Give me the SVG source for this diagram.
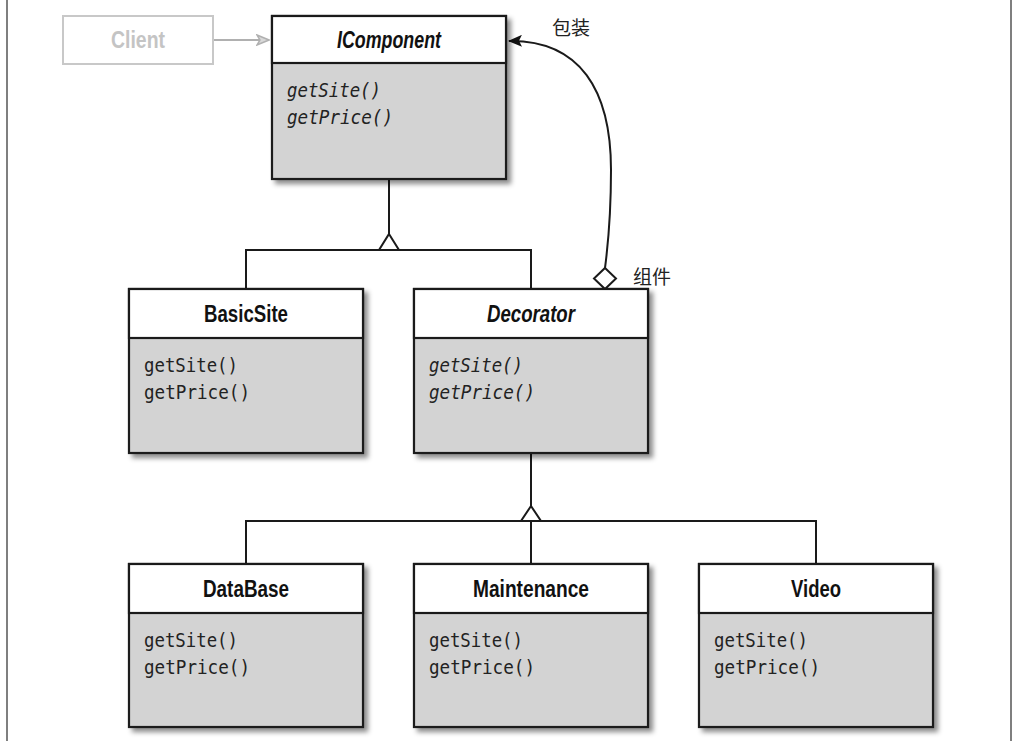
<svg xmlns="http://www.w3.org/2000/svg" width="1017" height="741" viewBox="0 0 1017 741">
<defs>
<filter id="sh" x="-10%" y="-10%" width="130%" height="130%">
<feDropShadow dx="4" dy="4" stdDeviation="2.5" flood-color="#000" flood-opacity="0.45"/>
</filter>
<marker id="arrB" viewBox="0 0 14 12" refX="13" refY="6" markerWidth="14" markerHeight="12" markerUnits="userSpaceOnUse" orient="auto">
<path d="M0,0 L14,6 L0,12 L3,6 Z" fill="#111"/>
</marker>
<marker id="arrG" viewBox="0 0 14 12" refX="13" refY="6" markerWidth="14" markerHeight="12" markerUnits="userSpaceOnUse" orient="auto">
<path d="M1,1 L13,6 L1,11 L4,6 Z" fill="#d8d8d8" stroke="#b0b0b0" stroke-width="1.5" stroke-linejoin="miter"/>
</marker>
</defs>
<style>
.frame{stroke:#555;stroke-width:1.5;fill:none}
.body{fill:#d3d3d3;stroke:#1a1a1a;stroke-width:2.2;filter:url(#sh)}
.head{fill:#fff;stroke:#1a1a1a;stroke-width:2.2}
.title{font-family:"Liberation Sans",Arial,sans-serif;font-weight:bold;font-size:23px;fill:#111;text-anchor:middle}
.it{font-style:italic}
.m{font-family:"DejaVu Sans Mono","Liberation Mono",monospace;font-size:19.5px;fill:#222}
.mi{font-family:"DejaVu Sans Mono","Liberation Mono",monospace;font-size:19.5px;fill:#222;font-style:italic}
.ln{stroke:#1a1a1a;stroke-width:2;fill:none}
.tri{fill:#fff;stroke:#1a1a1a;stroke-width:2;stroke-linejoin:miter}
.cjk{font-family:"Liberation Sans","Noto Sans CJK SC",sans-serif;font-size:19px;fill:#222}
</style>
<rect width="1017" height="741" fill="#fff"/>
<line class="frame" x1="7" y1="0" x2="7" y2="741"/>
<line class="frame" x1="1011" y1="0" x2="1011" y2="741"/>

<g id="connectors">
<line x1="213" y1="40" x2="269" y2="40" stroke="#b0b0b0" stroke-width="2" marker-end="url(#arrG)"/>
<line class="ln" x1="389" y1="179" x2="389" y2="236"/>
<polyline class="ln" points="246,289 246,250 531,250 531,289"/>
<polygon class="tri" points="389,234 399,250 379,250"/>
<line class="ln" x1="531" y1="453" x2="531" y2="508"/>
<polyline class="ln" points="246,564 246,521 816,521 816,564"/>
<line class="ln" x1="531" y1="521" x2="531" y2="564"/>
<polygon class="tri" points="531,506 541,521 521,521"/>
<path class="ln" d="M605,268 C608,245 611,220 611,170 C611,90 580,40 509,41" marker-end="url(#arrB)"/>
<polygon class="tri" points="605,268 616,278.5 605,289 594,278.5"/>
<text class="cjk" x="552" y="35">包装</text>
<text class="cjk" x="633" y="284">组件</text>
</g>

<g id="client">
<rect x="63" y="16" width="150" height="48" fill="#fff" stroke="#c8c8c8" stroke-width="2"/>
<text x="138" y="48" class="title" style="fill:#c4c4c4" textLength="54" lengthAdjust="spacingAndGlyphs">Client</text>
</g>

<g id="icomponent">
<rect class="body" x="272" y="16" width="234" height="163"/>
<rect class="head" x="272" y="16" width="234" height="47"/>
<text class="title it" x="389" y="48" textLength="104" lengthAdjust="spacingAndGlyphs">IComponent</text>
<text class="mi" x="287" y="97" textLength="94" lengthAdjust="spacingAndGlyphs">getSite()</text>
<text class="mi" x="287" y="124" textLength="106" lengthAdjust="spacingAndGlyphs">getPrice()</text>
</g>

<g id="basicsite">
<rect class="body" x="129" y="289" width="234" height="164"/>
<rect class="head" x="129" y="289" width="234" height="49"/>
<text class="title" x="246" y="322" textLength="84" lengthAdjust="spacingAndGlyphs">BasicSite</text>
<text class="m" x="144" y="372" textLength="94" lengthAdjust="spacingAndGlyphs">getSite()</text>
<text class="m" x="144" y="399" textLength="106" lengthAdjust="spacingAndGlyphs">getPrice()</text>
</g>

<g id="decorator">
<rect class="body" x="414" y="289" width="234" height="164"/>
<rect class="head" x="414" y="289" width="234" height="49"/>
<text class="title it" x="531" y="322" textLength="88" lengthAdjust="spacingAndGlyphs">Decorator</text>
<text class="mi" x="429" y="372" textLength="94" lengthAdjust="spacingAndGlyphs">getSite()</text>
<text class="mi" x="429" y="399" textLength="106" lengthAdjust="spacingAndGlyphs">getPrice()</text>
</g>

<g id="database">
<rect class="body" x="129" y="564" width="234" height="163"/>
<rect class="head" x="129" y="564" width="234" height="49"/>
<text class="title" x="246" y="597" textLength="86" lengthAdjust="spacingAndGlyphs">DataBase</text>
<text class="m" x="144" y="647" textLength="94" lengthAdjust="spacingAndGlyphs">getSite()</text>
<text class="m" x="144" y="674" textLength="106" lengthAdjust="spacingAndGlyphs">getPrice()</text>
</g>

<g id="maintenance">
<rect class="body" x="414" y="564" width="234" height="163"/>
<rect class="head" x="414" y="564" width="234" height="49"/>
<text class="title" x="531" y="597" textLength="116" lengthAdjust="spacingAndGlyphs">Maintenance</text>
<text class="m" x="429" y="647" textLength="94" lengthAdjust="spacingAndGlyphs">getSite()</text>
<text class="m" x="429" y="674" textLength="106" lengthAdjust="spacingAndGlyphs">getPrice()</text>
</g>

<g id="video">
<rect class="body" x="699" y="564" width="234" height="163"/>
<rect class="head" x="699" y="564" width="234" height="49"/>
<text class="title" x="816" y="597" textLength="50" lengthAdjust="spacingAndGlyphs">Video</text>
<text class="m" x="714" y="647" textLength="94" lengthAdjust="spacingAndGlyphs">getSite()</text>
<text class="m" x="714" y="674" textLength="106" lengthAdjust="spacingAndGlyphs">getPrice()</text>
</g>
</svg>
